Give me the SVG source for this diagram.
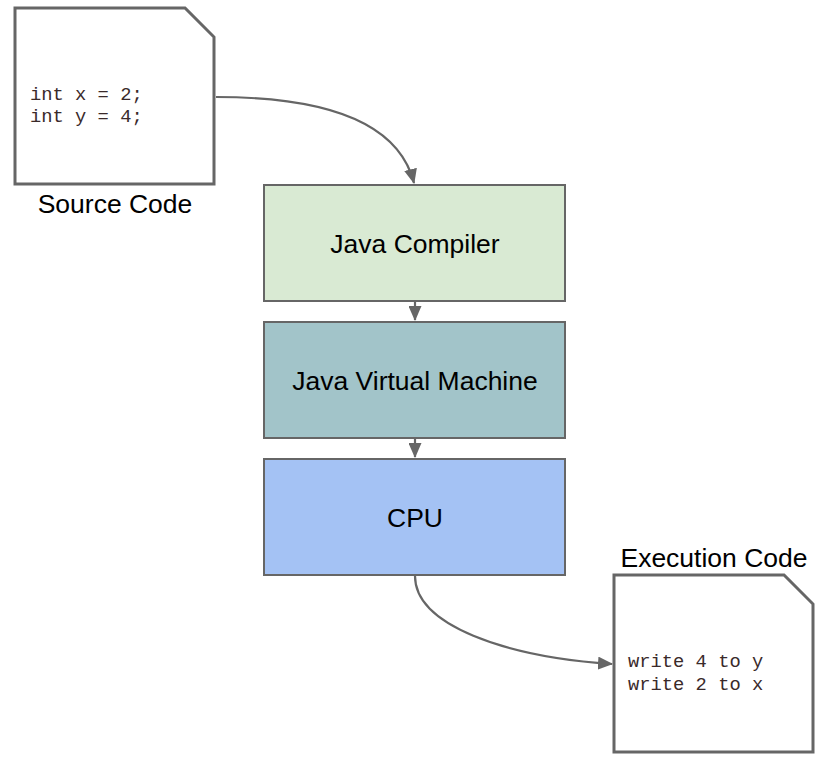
<svg xmlns="http://www.w3.org/2000/svg" width="827" height="761" viewBox="0 0 827 761">
<style>
.doc{fill:#fff;stroke:#666;stroke-width:3}
.box{stroke:#666;stroke-width:2}
.lbl{font-family:"Liberation Sans",Arial,sans-serif;font-size:26.5px;fill:#000;text-anchor:middle}
.code{font-family:"Liberation Mono","Courier New",monospace;font-size:18.8px;fill:#3a2a2a}
.conn{fill:none;stroke:#666;stroke-width:2.2}
</style>
<defs>
<marker id="ah" viewBox="0 0 15 13" refX="14" refY="6.5" markerWidth="15" markerHeight="13" orient="auto" markerUnits="userSpaceOnUse">
<path d="M0,0 L15,6.5 L0,13 z" fill="#666"/>
</marker>
</defs>
<rect width="827" height="761" fill="#fff"/>
<g id="connectors">
<path class="conn" d="M216,97 C320,97 398,120 414,183" marker-end="url(#ah)"/>
<path class="conn" d="M415,302 L415,320" marker-end="url(#ah)"/>
<path class="conn" d="M415,439 L415,457" marker-end="url(#ah)"/>
<path class="conn" d="M415,576 C415,625 505,657 612,664" marker-end="url(#ah)"/>
</g>
<g id="source-code">
<path class="doc" d="M15,8 L185,8 L214,37 L214,184 L15,184 Z"/>
<text class="code" x="30" y="100">int x = 2;</text>
<text class="code" x="30" y="122">int y = 4;</text>
<text class="lbl" x="115" y="213">Source Code</text>
</g>
<g id="java-compiler">
<rect class="box" x="264" y="185" width="301" height="116" fill="#d9ead3"/>
<text class="lbl" x="415" y="253">Java Compiler</text>
</g>
<g id="jvm">
<rect class="box" x="264" y="322" width="301" height="116" fill="#a2c4c9"/>
<text class="lbl" x="415" y="390">Java Virtual Machine</text>
</g>
<g id="cpu">
<rect class="box" x="264" y="459" width="301" height="116" fill="#a4c2f4"/>
<text class="lbl" x="415" y="527">CPU</text>
</g>
<g id="execution-code">
<path class="doc" d="M614,575 L784,575 L813,604 L813,752 L614,752 Z"/>
<text class="code" x="628" y="667">write 4 to y</text>
<text class="code" x="628" y="690">write 2 to x</text>
<text class="lbl" x="714" y="567">Execution Code</text>
</g>
</svg>
